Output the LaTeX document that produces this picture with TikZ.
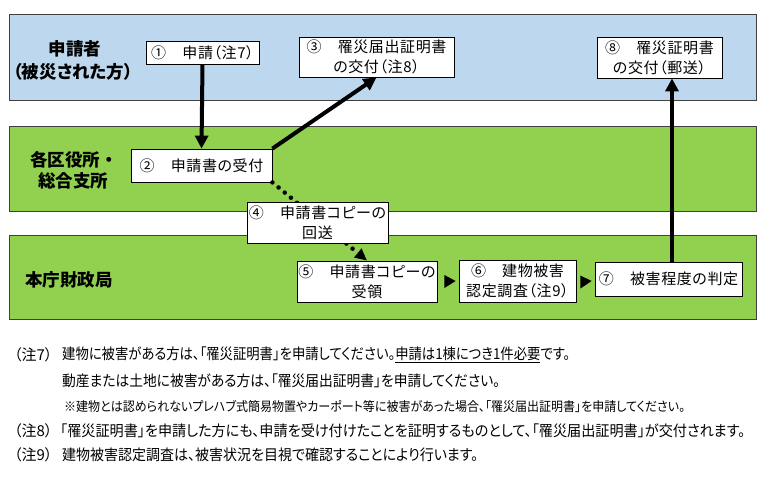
\documentclass[tikz,border=0pt]{standalone}
\usepackage{fontspec}
\usepackage{graphicx}
\setmainfont{Noto Sans CJK JP}
\newfontfamily\notefont[RawFeature=+palt]{Noto Sans CJK JP}
\newfontfamily\stepfont[RawFeature=+palt]{Noto Sans CJK JP}
\usetikzlibrary{arrows.meta,calc}
\definecolor{bandblue}{RGB}{189,215,238}
\definecolor{bandgreen}{RGB}{146,208,80}
\definecolor{bandedge}{RGB}{64,64,64}
\newcommand{\fitw}[2]{\resizebox{#1}{\height}{#2}}
\begin{document}
\begin{tikzpicture}[x=1pt,y=-1pt,
  band/.style={draw=bandedge, line width=0.9pt},
  title/.style={font=\fontsize{17.5}{20}\selectfont\bfseries, inner sep=0pt},
  stepbox/.style={draw=black, fill=white, line width=0.8pt, inner sep=0pt, align=center,
    font=\stepfont\fontsize{15}{20}\selectfont\addfontfeatures{LetterSpace=4}},
  note/.style={font=\notefont\fontsize{15}{17}\selectfont, inner sep=0pt, anchor=west},
  flow/.style={line width=4pt, -{Triangle[length=13pt,width=13pt]}},
  dotflow/.style={line width=4.5pt, line cap=round, dash pattern=on 0pt off 8pt,
    -{Triangle[length=12pt,width=11pt]}}]
\useasboundingbox (0,0) rectangle (771,481);
% bands
\draw[band, fill=bandblue]  (9,14)  rectangle (756,100);
\draw[band, fill=bandgreen] (9,126) rectangle (756,211);
\draw[band, fill=bandgreen] (9,235) rectangle (756,319);
% titles
\node[title] (tA1) at (75,49) {申請者};
\node[title] (tA2) at (73,72) {\addfontfeatures{RawFeature=+palt}（被災された方）};
\node[title] (tB1) at (74,160) {各区役所・};
\node[title] (tB2) at (73,181) {総合支所};
\node[title, anchor=west] (tC) at (25,280) {本庁財政局};
% boxes
\node[stepbox, minimum width=113, minimum height=23] (b1) at (202.5,52.5) {①　申請（注7）};
\node[stepbox, minimum width=155, minimum height=40] (b3) at (376.5,57) {③　罹災届出証明書\\の交付（注8）};
\node[stepbox, minimum width=125, minimum height=41] (b8) at (659.5,57.5) {⑧　罹災証明書\\の交付（郵送）};
\node[stepbox, minimum width=141, minimum height=33] (b2) at (201.5,165.5) {②　申請書の受付};
\node[stepbox, minimum width=140, minimum height=41] (b5) at (367,281.5) {⑤　申請書コピーの\\受領};
\node[stepbox, minimum width=117, minimum height=42] (b6) at (517.5,281) {⑥　建物被害\\認定調査（注9）};
\node[stepbox, minimum width=147, minimum height=34] (b7) at (668.5,279) {⑦　被害程度の判定};
% connectors
\draw[flow] (b1.south) -- (b2.north);
\draw[flow] (b2.north east) -- (b3.south);
\coordinate (x78) at (672,0);
\draw[flow] (b7.north -| x78) -- (b8.south -| x78);
\draw[dotflow] (b2.south east) -- (b5.north);
\fill ($(b5.east)+(7,-6.5)$) -- ($(b5.east)+(7,6.5)$) -- ($(b6.west)+(-3,0)$) -- cycle;
\fill ($(b6.east)+(4,-5.5)$) -- ($(b6.east)+(4,7.5)$) -- ($(b7.west)+(-3,2)$) -- cycle;
% box 4 on top of the dotted connector
\node[stepbox, minimum width=141, minimum height=41] (b4) at (317.5,222.5) {④　申請書コピーの\\回送};
% notes
\node[note] (n7) at (14,355) {（注7）};
\node[note] (n7a) at (62,355) {\fitw{508pt}{建物に被害がある方は、「罹災証明書」を申請してください。\underline{申請は1棟につき1件必要}です。}};
\node[note] (n7b) at (62,381) {\fitw{438pt}{動産または土地に被害がある方は、「罹災届出証明書」を申請してください。}};
\node[note] (n7c) at (64,406) {\fitw{621pt}{\fontsize{13}{15}\selectfont ※建物とは認められないプレハブ式簡易物置やカーポート等に被害があった場合、「罹災届出証明書」を申請してください。}};
\node[note] (n8) at (14,431) {（注8）};
\node[note] (n8a) at (60,431) {\fitw{685pt}{「罹災証明書」を申請した方にも、申請を受け付けたことを証明するものとして、「罹災届出証明書」が交付されます。}};
\node[note] (n9) at (14,455) {（注9）};
\node[note] (n9a) at (62,455) {\fitw{416pt}{建物被害認定調査は、被害状況を目視で確認することにより行います。}};
\end{tikzpicture}
\end{document}
